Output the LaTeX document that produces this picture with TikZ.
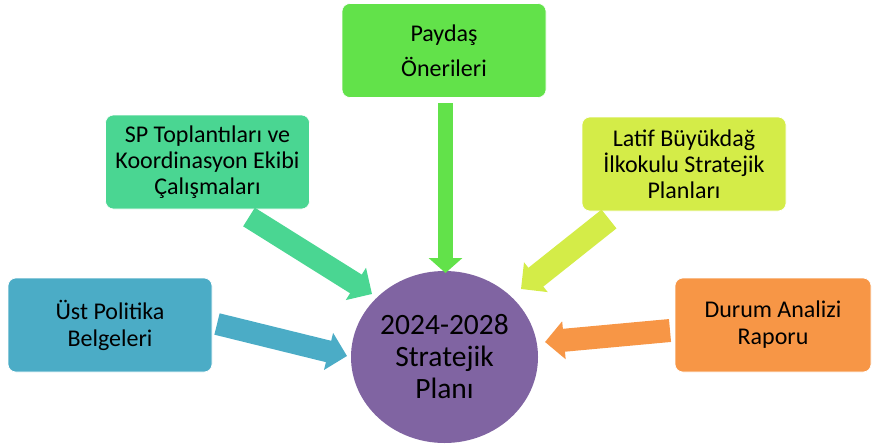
\documentclass[tikz,border=0pt]{standalone}
\usepackage{fontspec}
\setmainfont{Carlito}
\usetikzlibrary{arrows.meta, shapes.geometric}

\definecolor{ustblue}{HTML}{4BACC6}
\definecolor{spgreen}{HTML}{4AD692}
\definecolor{paygreen}{HTML}{62E24A}
\definecolor{latifyel}{HTML}{D4EC48}
\definecolor{durumorg}{HTML}{F79646}
\definecolor{planpurp}{HTML}{8064A2}

\tikzset{
  srcbox/.style={rectangle, rounded corners=8pt, draw=white, line width=0.6pt,
    minimum width=204pt, minimum height=94pt, align=center, inner sep=2pt,
    font=\fontsize{24}{26}\selectfont},
  blockarrow/.style={line width=#1, -{Triangle[length=19pt, width=37pt]}},
}

\begin{document}
\begin{tikzpicture}[x=1pt, y=-1pt]
  \useasboundingbox (0,0) rectangle (872,444);
  % kaynaklar
  \node [srcbox, fill=ustblue, font=\fontsize{24}{27}\selectfont] (ust) at (110,325) {Üst Politika\\Belgeleri};
  \node [srcbox, fill=spgreen] (sp) at (207.5,162) {SP Toplantıları ve\\Koordinasyon Ekibi\\Çalışmaları};
  \node [srcbox, fill=paygreen, font=\fontsize{24}{35}\selectfont] (paydas) at (444,50.5) {Paydaş\\Önerileri};
  \node [srcbox, fill=latifyel] (latif) at (684,164) {Latif Büyükdağ\\İlkokulu Stratejik\\Planları};
  \node [srcbox, fill=durumorg, minimum width=196pt, font=\fontsize{24}{27}\selectfont] (durum) at (773,325) {Durum Analizi\\Raporu};
  % plan
  \node [ellipse, fill=planpurp, minimum width=187pt, minimum height=172pt, inner sep=0pt,
    align=center, font=\fontsize{29.5}{32}\selectfont] (plan) at (444.5,357) {2024-2028\\Stratejik\\Planı};
  % ok uclari
  \coordinate (ustT) at (217,324);   \coordinate (ustH) at (347,356);
  \coordinate (spT) at (249,217);    \coordinate (spH) at (372,294);
  \coordinate (payT) at (445.5,103); \coordinate (payH) at (445.5,273);
  \coordinate (latT) at (609,219);   \coordinate (latH) at (521,289);
  \coordinate (durT) at (670,330.5); \coordinate (durH) at (545,342);
  \draw [blockarrow=22pt, ustblue] (ustT) -- (ustH);
  \draw [blockarrow=22pt, spgreen] (spT) -- (spH);
  \draw [blockarrow=15pt, paygreen, -{Triangle[length=15pt, width=33pt]}] (payT) -- (payH);
  \draw [blockarrow=24pt, latifyel] (latT) -- (latH);
  \draw [blockarrow=23pt, durumorg] (durT) -- (durH);
\end{tikzpicture}
\end{document}
